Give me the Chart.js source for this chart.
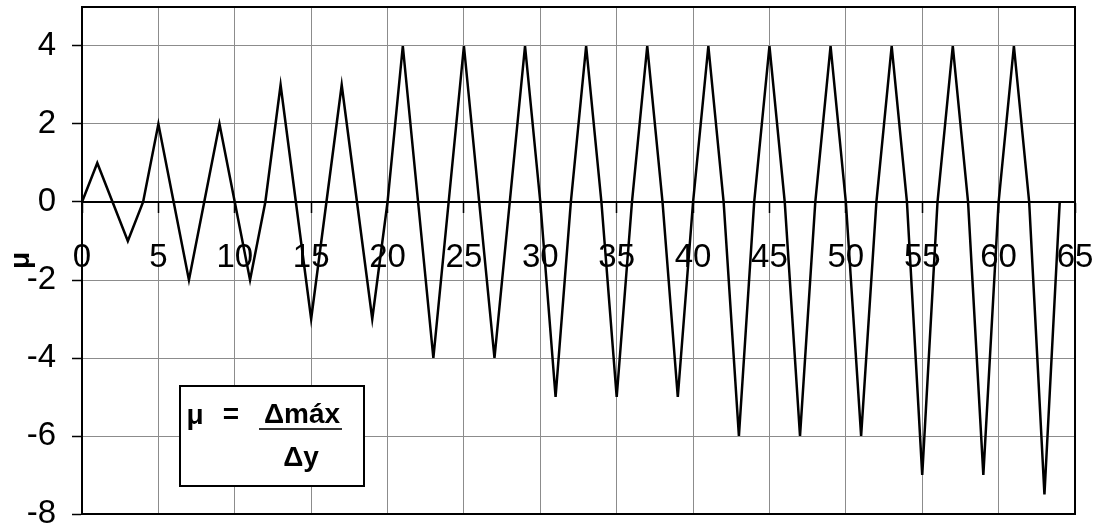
<!DOCTYPE html>
<html>
<head>
<meta charset="utf-8">
<script src="https://cdn.jsdelivr.net/npm/chart.js@4.4.1/dist/chart.umd.min.js"></script>
<style>
  html, body { margin:0; padding:0; background:#fff; }
  #wrap { position:relative; width:1097px; height:532px; }
</style>
</head>
<body>
<div id="wrap"><canvas id="grafico" width="1097" height="532"></canvas></div>
<script>
// ciclos (eixo x) e ductilidade mu (eixo y)
const ciclos = [0,1,2,3,4,5,6,7,8,9,10,11,12,13,14,15,16,17,18,19,20,21,22,23,24,25,26,27,28,29,30,31,32,
  33,34,35,36,37,38,39,40,41,42,43,44,45,46,47,48,49,50,51,52,53,54,55,56,57,58,59,60,61,62,63,64];
const mu = [0,1,0,-1,0,2,0,-2,0,2,0,-2,0,3,0,-3,0,3,0,-3,0,4,0,-4,0,4,0,-4,0,4,0,-5,0,
  4,0,-5,0,4,0,-5,0,4,0,-6,0,4,0,-6,0,4,0,-6,0,4,0,-7,0,4,0,-7,0,4,0,-7.5,0];
const xTicks = [0,5,10,15,20,25,30,35,40,45,50,55,60,65];
const yTicks = [-8,-6,-4,-2,0,2,4];

const FONT = "'Liberation Sans', Arial, sans-serif";
const GRID = "#8c8c8c";

/* moldura da area do grafico */
const moldura = {
  id: "moldura",
  beforeDatasetsDraw(chart){
    const {ctx, chartArea:a} = chart;
    ctx.save();
    ctx.strokeStyle = "#000";
    ctx.lineWidth = 2;
    ctx.strokeRect(a.left, a.top, a.right - a.left, a.bottom - a.top);
    ctx.restore();
  }
};

/* caixa com a formula mu = dmax / dy */
const formula = {
  id: "formula",
  afterDatasetsDraw(chart){
    const ctx = chart.ctx;
    ctx.save();
    ctx.fillStyle = "#fff";
    ctx.fillRect(180, 386, 184, 100);
    ctx.strokeStyle = "#000";
    ctx.lineWidth = 2;
    ctx.strokeRect(180, 386, 184, 100);

    ctx.fillStyle = "#000";
    ctx.font = "bold 28px " + FONT;
    ctx.textBaseline = "alphabetic";
    ctx.textAlign = "center";
    ctx.fillText("\u03bc", 195, 424);
    ctx.fillText("=", 231, 423);
    ctx.fillText("\u0394m\u00e1x", 302, 423);
    ctx.fillText("\u0394y", 301, 466);

    ctx.strokeStyle = "#333";
    ctx.lineWidth = 2;
    ctx.beginPath();
    ctx.moveTo(259, 429);
    ctx.lineTo(342, 429);
    ctx.stroke();
    ctx.restore();
  }
};

new Chart(document.getElementById("grafico"), {
  type: "line",
  data: {
    datasets: [{
      data: ciclos.map((c, i) => ({x: c, y: mu[i]})),
      borderColor: "#000",
      borderWidth: 2.5,
      pointRadius: 0,
      tension: 0,
      fill: false
    }]
  },
  options: {
    responsive: false,
    animation: false,
    devicePixelRatio: 1,
    layout: { padding: { top: 7, right: 22, bottom: 18, left: 0 } },
    plugins: { legend: { display: false }, tooltip: { enabled: false } },
    scales: {
      x: {
        type: "linear",
        position: { y: 0 },
        min: 0, max: 65,
        afterBuildTicks: s => { s.ticks = xTicks.map(v => ({value: v})); },
        afterFit: s => { s.paddingLeft = 0; s.paddingRight = 0; },
        ticks: {
          color: "#000",
          font: { family: FONT, size: 33 },
          padding: 26,
          maxRotation: 0,
          autoSkip: false
        },
        grid: { color: GRID, lineWidth: 1, tickLength: 10, tickColor: "#000", tickWidth: 1.5 },
        border: { color: "#000", width: 2 }
      },
      y: {
        type: "linear",
        min: -8, max: 5,
        afterBuildTicks: s => { s.ticks = yTicks.map(v => ({value: v})); },
        afterFit: s => { s.width = 82; s.paddingTop = 0; s.paddingBottom = 0; },
        ticks: {
          color: "#000",
          font: { family: FONT, size: 33 },
          padding: 16
        },
        grid: { color: GRID, lineWidth: 1, tickLength: 10, tickColor: "#000", tickWidth: 1.5 },
        border: { color: "#000", width: 2 },
        title: {
          display: true,
          text: "\u03bc",
          color: "#000",
          font: { family: FONT, size: 28, weight: "bold" },
          padding: { top: 4, bottom: 0 }
        }
      }
    }
  },
  plugins: [moldura, formula]
});
</script>
</body>
</html>
